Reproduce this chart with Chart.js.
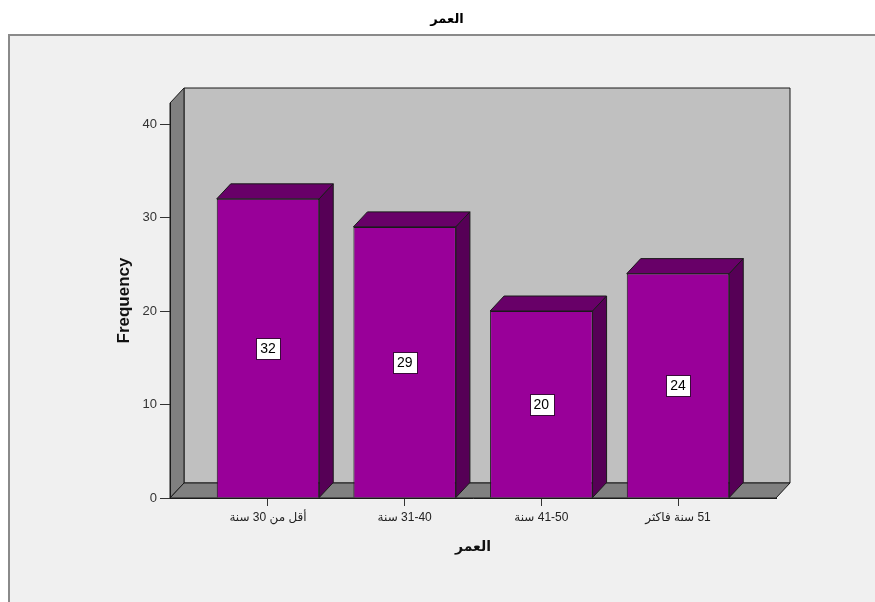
<!DOCTYPE html>
<html>
<head>
<meta charset="utf-8">
<script src="https://cdn.jsdelivr.net/npm/chart.js@4.4.1/dist/chart.umd.min.js"></script>
<style>
  html, body { margin: 0; padding: 0; background: #fff; }
  canvas { display: block; }
</style>
</head>
<body>
<canvas id="ageChart" width="875" height="602" dir="rtl"></canvas>
<script>
const categories = ['أقل من 30 سنة', '31-40 سنة', '41-50 سنة', '51 سنة فاكثر'];
const frequencies = [32, 29, 20, 24];
const yTicks = [0, 10, 20, 30, 40];
const chartTitle = 'العمر';
const xTitle = 'العمر';
const yTitle = 'Frequency';

const DX = 14, DY = 15;

Chart.defaults.font.family = "Arial, 'Liberation Sans', 'DejaVu Sans', sans-serif";

function poly(ctx, pts, fill) {
  ctx.beginPath();
  ctx.moveTo(pts[0][0], pts[0][1]);
  for (let i = 1; i < pts.length; i++) ctx.lineTo(pts[i][0], pts[i][1]);
  ctx.closePath();
  ctx.fillStyle = fill;
  ctx.fill();
  ctx.stroke();
}

// background panel, walls and floor, then 3d faces of the bars + value boxes
const box3d = {
  id: 'box3d',
  beforeDraw(chart) {
    const ctx = chart.ctx;
    const {left: L, right: R, top: T, bottom: B} = chart.chartArea;
    ctx.save();
    ctx.fillStyle = '#ffffff';
    ctx.fillRect(0, 0, chart.width, chart.height);
    ctx.fillStyle = '#f0f0f0';
    ctx.fillRect(9, 35, chart.width - 9, chart.height - 35);
    ctx.fillStyle = '#8a8a8a';
    ctx.fillRect(8, 34, chart.width - 8, 2);
    ctx.fillRect(8, 34, 2, chart.height - 34);

    ctx.fillStyle = '#000';
    ctx.font = "bold 13px Arial, 'Liberation Sans', 'DejaVu Sans', sans-serif";
    ctx.textAlign = 'center';
    ctx.textBaseline = 'middle';
    ctx.fillText(chartTitle, 447, 19);

    ctx.strokeStyle = '#1a1a1a';
    ctx.lineWidth = 1;
    poly(ctx, [[L + DX, T - DY], [R + DX, T - DY], [R + DX, B - DY], [L + DX, B - DY]], '#c0c0c0');
    poly(ctx, [[L, B], [L, T], [L + DX, T - DY], [L + DX, B - DY]], '#808080');
    poly(ctx, [[L, B], [R, B], [R + DX, B - DY], [L + DX, B - DY]], '#808080');
    ctx.restore();
  },
  afterDatasetsDraw(chart) {
    const ctx = chart.ctx;
    const meta = chart.getDatasetMeta(0);
    ctx.save();
    ctx.strokeStyle = '#1a1a1a';
    ctx.lineWidth = 1;
    meta.data.forEach((bar, i) => {
      const {x, y, base, width} = bar.getProps(['x', 'y', 'base', 'width'], true);
      const l = x - width / 2, r = x + width / 2;
      poly(ctx, [[l, y], [l + DX, y - DY], [r + DX, y - DY], [r, y]], '#680068');
      poly(ctx, [[r, y], [r + DX, y - DY], [r + DX, base - DY], [r, base]], '#560056');
    });
    ctx.font = "14px Arial, 'Liberation Sans', 'DejaVu Sans', sans-serif";
    ctx.textAlign = 'center';
    ctx.textBaseline = 'middle';
    meta.data.forEach((bar, i) => {
      const {x, y, base} = bar.getProps(['x', 'y', 'base'], true);
      const txt = String(frequencies[i]);
      const w = ctx.measureText(txt).width + 8;
      const h = 21;
      const cy = (y + base) / 2;
      ctx.fillStyle = '#ffffff';
      ctx.fillRect(Math.round(x - w / 2) + 0.5, Math.round(cy - h / 2) + 0.5, Math.round(w), h);
      ctx.strokeStyle = '#3a0a3a';
      ctx.strokeRect(Math.round(x - w / 2) + 0.5, Math.round(cy - h / 2) + 0.5, Math.round(w), h);
      ctx.fillStyle = '#000';
      ctx.fillText(txt, x, cy + 1);
    });
    ctx.restore();
  }
};

new Chart(document.getElementById('ageChart'), {
  type: 'bar',
  data: {
    datasets: [{
      label: yTitle,
      data: frequencies.map((v, i) => ({x: i, y: v})),
      backgroundColor: '#990099',
      borderColor: '#1a1a1a',
      borderWidth: 1,
      barPercentage: 0.75,
      categoryPercentage: 1
    }]
  },
  options: {
    responsive: false,
    animation: false,
    layout: {
      padding: {left: 0, right: 99, top: 103, bottom: 0}
    },
    plugins: {
      legend: {display: false},
      title: {display: false},
      tooltip: {enabled: false}
    },
    scales: {
      x: {
        type: 'linear',
        offset: false,
        min: -0.717,
        max: 3.717,
        afterBuildTicks: (s) => { s.ticks = categories.map((c, i) => ({value: i})); },
        afterFit: (s) => { s.height = 104; },
        grid: {drawOnChartArea: false, offset: false, tickLength: 8, color: '#333'},
        border: {color: '#1a1a1a'},
        ticks: {
          autoSkip: false,
          maxRotation: 0,
          padding: 4,
          color: '#222',
          font: {size: 12},
          callback: (v) => categories[v]
        },
        title: {
          display: true,
          text: xTitle,
          color: '#111',
          font: {size: 14, weight: 'bold'},
          padding: {top: 0, bottom: 46.6}
        }
      },
      y: {
        min: 0,
        max: 42.25,
        afterBuildTicks: (s) => { s.ticks = yTicks.map(v => ({value: v})); },
        afterFit: (s) => { s.width = 170; },
        grid: {drawOnChartArea: false, tickLength: 10, color: '#333'},
        border: {color: '#1a1a1a'},
        ticks: {padding: 3, color: '#333', font: {size: 13}},
        title: {
          display: true,
          text: yTitle,
          color: '#111',
          font: {size: 17, weight: 'bold'},
          padding: {top: 113.8, bottom: 0}
        }
      }
    }
  },
  plugins: [box3d]
});
</script>
</body>
</html>
